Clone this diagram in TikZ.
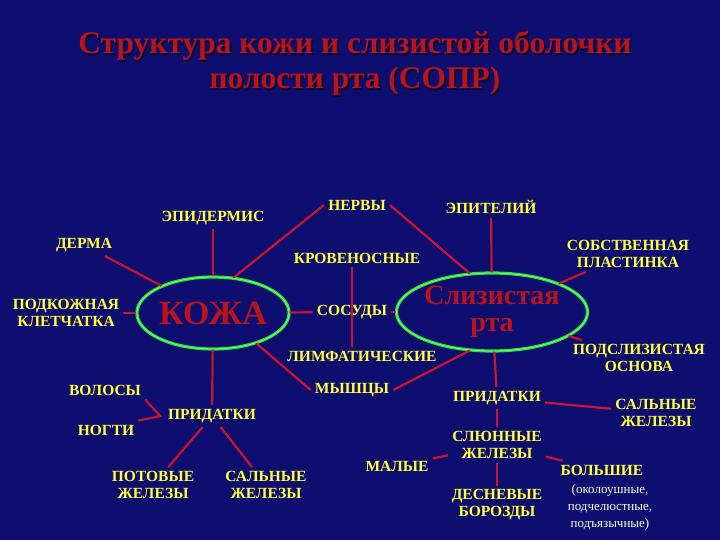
\documentclass[tikz,border=0pt]{standalone}
\usepackage{fontspec}
\setmainfont{Liberation Serif}
\usetikzlibrary{shapes.geometric}
\definecolor{bg}{RGB}{14,14,112}
\definecolor{ylw}{RGB}{255,255,60}
\definecolor{lnred}{RGB}{205,20,45}
\definecolor{ttl}{RGB}{185,20,25}
\definecolor{grn}{RGB}{40,220,60}
\begin{document}
\begin{tikzpicture}[x=1pt,y=-1pt,
  lbl/.style={text=ylw,font=\bfseries\fontsize{15.5}{17}\selectfont,align=center,inner sep=4pt},
  sm/.style={text=white!85!yellow,font=\fontsize{13}{17}\selectfont,align=center,inner sep=1pt},
  ln/.style={draw=lnred,line width=2.2pt},
  ell/.style={ellipse,draw=grn,line width=1.2pt,double=green!50!white,double distance=0.8pt,text=ttl,font=\bfseries,inner sep=0pt}]
\fill[bg] (0,0) rectangle (720,540);
\useasboundingbox (0,0) rectangle (720,540);
\foreach \d/\c in {1.5/black!60!bg,0/ttl}{
\node[text=\c,font=\bfseries\fontsize{31.5}{36}\selectfont] (t1) at (355+\d,46+\d) {Структура кожи и слизистой оболочки};
\node[text=\c,font=\bfseries\fontsize{31.5}{36}\selectfont] (t2) at (355+\d,81+\d) {полости рта (СОПР)};}
\node[ell,minimum width=108,minimum height=72,font=\bfseries\fontsize{34}{36}\selectfont] (koza) at (213,313) {КОЖА};
\node[ell,minimum width=142,minimum height=78,font=\bfseries\fontsize{28}{27}\selectfont,align=center] (sl) at (492,312) {Слизистая\\рта};
\node[lbl] (epi) at (213,218) {ЭПИДЕРМИС};
\node[lbl] (derm) at (84,245) {ДЕРМА};
\node[lbl] (podk) at (66,313) {ПОДКОЖНАЯ\\КЛЕТЧАТКА};
\node[lbl] (nerv) at (357,205) {НЕРВЫ};
\node[lbl] (krov) at (357,258) {КРОВЕНОСНЫЕ};
\node[lbl] (sos) at (352,312) {СОСУДЫ};
\node[lbl] (limf) at (362,356) {ЛИМФАТИЧЕСКИЕ};
\node[lbl] (mysh) at (352,390) {МЫШЦЫ};
\node[lbl] (epit) at (491,207) {ЭПИТЕЛИЙ};
\node[lbl] (sobs) at (628,254) {СОБСТВЕННАЯ\\ПЛАСТИНКА};
\node[lbl] (pods) at (639,358) {ПОДСЛИЗИСТАЯ\\ОСНОВА};
\node[lbl] (prR) at (497,398) {ПРИДАТКИ};
\node[lbl] (salR) at (656,413) {САЛЬНЫЕ\\ЖЕЛЕЗЫ};
\node[lbl] (slun) at (497,445) {СЛЮННЫЕ\\ЖЕЛЕЗЫ};
\node[lbl] (mal) at (397,466) {МАЛЫЕ};
\node[lbl] (desn) at (497,505) {ДЕСНЕВЫЕ\\БОРОЗДЫ};
\node[lbl] (bol) at (602,470) {БОЛЬШИЕ};
\node[sm] (bolt) at (610,507) {(околоушные,\\подчелюстные,\\подъязычные)};
\node[lbl] (vol) at (105,390) {ВОЛОСЫ};
\node[lbl] (prL) at (212,416) {ПРИДАТКИ};
\node[lbl] (nog) at (106,430) {НОГТИ};
\node[lbl] (pot) at (153,485) {ПОТОВЫЕ\\ЖЕЛЕЗЫ};
\node[lbl] (salL) at (266,485) {САЛЬНЫЕ\\ЖЕЛЕЗЫ};
\coordinate (br) at (160,416);
\begin{scope}[ln]
\draw (koza) -- (epi);
\draw (koza) -- (derm);
\draw (koza) -- (podk);
\draw (koza.60) -- (nerv.west);
\draw (koza) -- (sos);
\draw (koza.-35) -- (mysh.west);
\draw (koza) -- (prL);
\draw (krov.south -| sos) -- (limf.north -| sos);
\draw (sl.120) -- (nerv.east);
\draw (sl) -- (epit);
\draw (sl) -- (sobs);
\draw (sl) -- (sos);
\draw (sl) -- (pods);
\draw (sl.-120) -- (mysh.east);
\draw (sl) -- (prR);
\draw (prR) -- (salR);
\draw (prR) -- (slun);
\draw (slun) -- (mal);
\draw (slun) -- (bol);
\draw (slun) -- (desn);
\draw (vol.south east) -- (br) -- (nog.north east);
\draw (prL) -- (pot);
\draw (prL) -- (salL);
\end{scope}
\end{tikzpicture}
\end{document}
